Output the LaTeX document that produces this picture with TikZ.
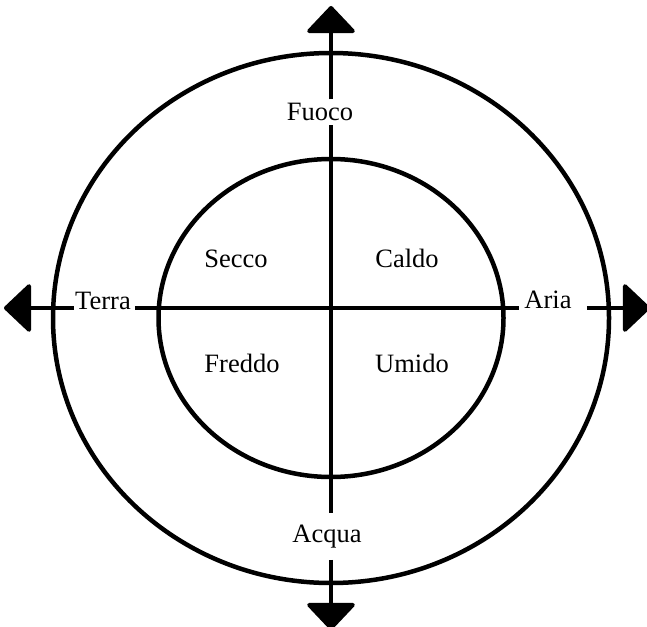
\documentclass[tikz,border=0pt]{standalone}
\usepackage{fontspec}
\setmainfont{Liberation Serif}
\usetikzlibrary{arrows.meta}
\begin{document}
\begin{tikzpicture}[x=1pt,y=-1pt,
  ring/.style={line width=4.5pt},
  axis/.style={line width=4pt},
  tip/.style={axis,-{Triangle[length=28pt,width=52pt,round]}},
  lbl/.style={font=\fontsize{26.5}{30}\selectfont,inner sep=0pt,anchor=base}]
\useasboundingbox (0,0) rectangle (647,626);
\coordinate (C) at (331,318);
\coordinate (T) at (331,6);
\coordinate (B) at (331,630);
\coordinate (L) at (4,308);
\coordinate (R) at (650,308);
\draw[ring] (C) ellipse [x radius=278, y radius=265];
\draw[ring] (C) ellipse [x radius=172.5, y radius=159];
\node[lbl] (fuoco) at (320,120) {Fuoco};
\node[lbl] (acqua) at (327,542) {Acqua};
\node[lbl] (terra) at (103,309) {Terra};
\node[lbl] (aria) at (548,308) {Aria};
\node[lbl] (secco) at (236,267) {Secco};
\node[lbl] (caldo) at (407,267) {Caldo};
\node[lbl] (freddo) at (242,372) {Freddo};
\node[lbl] (umido) at (412,372) {Umido};
% vertical axis
\draw[tip,shorten <=3pt] (fuoco.north -| T) -- (T);
\draw[axis,shorten <=5pt,shorten >=11pt] (fuoco.south -| T) -- (acqua.north -| T);
\draw[tip,shorten <=12pt] (acqua.south -| T) -- (B);
% horizontal axis
\draw[tip,shorten <=1pt] (terra.west |- L) -- (L);
\draw[axis,shorten <=4pt,shorten >=5pt] (terra.east |- L) -- (aria.west |- L);
\draw[tip,shorten <=15pt] (aria.east |- L) -- (R);
\end{tikzpicture}
\end{document}
